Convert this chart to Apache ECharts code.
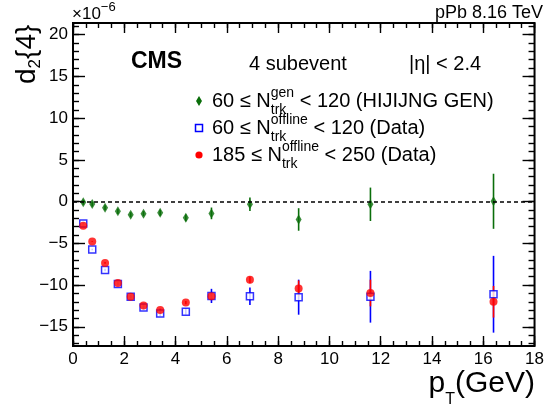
<!DOCTYPE html>
<html><head><meta charset="utf-8">
<script src="https://cdn.jsdelivr.net/npm/echarts@6/dist/echarts.min.js"></script>
<style>html,body{margin:0;padding:0;background:#fff}#c{width:547px;height:410px}</style>
</head><body><div id="c"></div>
<script>
// ---- data ----
const pt = [0.4, 0.75, 1.25, 1.75, 2.25, 2.75, 3.4, 4.4, 5.4, 6.9, 8.8, 11.6, 16.4];
const genVal = [-0.08, -0.3, -0.73, -1.17, -1.58, -1.45, -1.33, -1.94, -1.41, -0.32, -2.14, -0.32, 0.04];
const genErr = [0.3, 0.3, 0.3, 0.3, 0.3, 0.3, 0.35, 0.4, 0.7, 0.8, 1.35, 2.0, 3.3];
const lowVal = [-2.63, -5.74, -8.2, -9.86, -11.4, -12.7, -13.4, -13.2, -11.3, -11.35, -11.45, -11.4, -11.1];
const lowErr = [0.1, 0.1, 0.15, 0.15, 0.2, 0.25, 0.3, 0.35, 0.85, 1.05, 2.1, 3.1, 4.6];
const highVal = [-2.9, -4.77, -7.35, -9.74, -11.4, -12.44, -13.0, -12.1, -11.35, -9.37, -10.4, -10.95, -12.0];
const highErr = [0.05, 0.05, 0.1, 0.1, 0.1, 0.15, 0.15, 0.2, 0.3, 0.4, 0.95, 1.6, 1.9];

const xMajorTicks = [0, 2, 4, 6, 8, 10, 12, 14, 16, 18];
const xMinorTicks = [0, 0.5, 1, 1.5, 2, 2.5, 3, 3.5, 4, 4.5, 5, 5.5, 6, 6.5, 7, 7.5, 8, 8.5, 9, 9.5, 10, 10.5, 11, 11.5, 12, 12.5, 13, 13.5, 14, 14.5, 15, 15.5, 16, 16.5, 17, 17.5, 18];
const yMajorTicks = [-15, -10, -5, 0, 5, 10, 15, 20];
const yMinorTicks = [-17, -16, -15, -14, -13, -12, -11, -10, -9, -8, -7, -6, -5, -4, -3, -2, -1, 0, 1, 2, 3, 4, 5, 6, 7, 8, 9, 10, 11, 12, 13, 14, 15, 16, 17, 18, 19, 20, 21];
const X_MIN = 0, X_MAX = 18, Y_MIN = -17.3, Y_MAX = 21.4;

const legendLabels = [
  ['60 ≤ N', 'gen', 'trk', ' < 120 (HIJIJNG GEN)'],
  ['60 ≤ N', 'offline', 'trk', ' < 120 (Data)'],
  ['185 ≤ N', 'offline', 'trk', ' < 250 (Data)']
];

// ---- styles ----
const GREEN = '#0a6e0a', BLUE = '#0000ff', RED = '#ff0000';
const FONT = '"Liberation Sans", Arial, Helvetica, sans-serif';
const mctx = document.createElement('canvas').getContext('2d');
function tw(t, size, weight) { mctx.font = (weight || 'normal') + ' ' + size + 'px ' + FONT; return mctx.measureText(t).width; }
function txt(t, x, y, size, opt) {
  opt = opt || {};
  return { type: 'text', x: x, y: y, rotation: opt.rotation || 0, silent: true, z: 100,
    style: { text: t, fontSize: size, fontFamily: FONT, fontWeight: opt.weight || 'normal', fill: opt.fill || '#000',
      align: opt.align || 'left', verticalAlign: 'middle' } };
}
function hrun(x, y, pieces, anchor) {
  const widths = pieces.map(p => p.stack ? Math.max(...p.stack.map(s => tw(s.t, s.size))) : tw(p.t, p.size, p.weight));
  const total = widths.reduce((a, b) => a + b, 0);
  let cx = anchor === 'right' ? x - total : x;
  const els = [];
  pieces.forEach((p, i) => {
    (p.stack || [p]).forEach(s => els.push(txt(s.t, cx, y + (s.dy || 0), s.size, { weight: s.weight })));
    cx += widths[i];
  });
  return els;
}
function vrun(x, yBottom, pieces) {
  let cy = yBottom;
  const els = [];
  pieces.forEach(p => {
    els.push(txt(p.t, x + (p.dy || 0), cy, p.size, { rotation: Math.PI / 2 }));
    cy -= tw(p.t, p.size);
  });
  return els;
}

const graphics = [];
graphics.push(...hrun(72, 14, [{ t: '×10', size: 17 }, { t: '−6', size: 13, dy: -7 }]));
graphics.push(txt('pPb 8.16 TeV', 543, 13, 18, { align: 'right' }));
graphics.push(txt('CMS', 131, 62, 23, { weight: 'bold' }));
graphics.push(txt('4 subevent', 249, 64, 20));
graphics.push(txt('|η| < 2.4', 409, 64, 20));
graphics.push(...hrun(535, 384, [{ t: 'p', size: 30 }, { t: 'T', size: 16, dy: 16 }, { t: '(GeV)', size: 30 }], 'right'));
graphics.push(...vrun(27, 84, [{ t: 'd', size: 28 }, { t: '2', size: 17, dy: 8.5 }, { t: '{4}', size: 28 }]));

const rowY = [101, 128, 155];
legendLabels.forEach((L, i) => {
  graphics.push(...hrun(212, rowY[i], [
    { t: L[0], size: 20 },
    { stack: [{ t: L[1], size: 14, dy: -8 }, { t: L[2], size: 14, dy: 9 }] },
    { t: L[3], size: 20 }
  ]));
});
graphics.push({ type: 'polygon', silent: true, z: 100, shape: { points: [[199, rowY[0] - 5], [202, rowY[0]], [199, rowY[0] + 5], [196, rowY[0]]] }, style: { fill: GREEN } });
graphics.push({ type: 'rect', silent: true, z: 100, shape: { x: 195.5, y: rowY[1] - 3.5, width: 7, height: 7 }, style: { fill: '#fff', stroke: BLUE, lineWidth: 1.5 } });
graphics.push({ type: 'circle', silent: true, z: 100, shape: { cx: 199, cy: rowY[2], r: 3.6 }, style: { fill: RED } });

// ---- axes ----
const labelStyle = { color: '#000', fontSize: 17, fontFamily: FONT };
function fmt(v) { return v < 0 ? '\u2212' + Math.abs(v) : String(v); }
function yAx(pos, ticks, len, labels) {
  return { type: 'value', position: pos, min: Y_MIN, max: Y_MAX, axisLine: { show: false, onZero: false },
    axisTick: { show: true, inside: true, length: len, customValues: ticks, lineStyle: { color: '#000', width: 1.4 } },
    axisLabel: Object.assign({ show: labels, customValues: yMajorTicks, margin: 5, formatter: fmt }, labelStyle),
    splitLine: { show: false } };
}
function xAx(pos, ticks, len, labels) {
  return { type: 'value', position: pos, min: X_MIN, max: X_MAX, axisLine: { show: false, onZero: false },
    axisTick: { show: true, inside: true, length: len, customValues: ticks, lineStyle: { color: '#000', width: 1.4 } },
    axisLabel: Object.assign({ show: labels, customValues: xMajorTicks, margin: 5, formatter: fmt }, labelStyle),
    splitLine: { show: false } };
}

function errSeries(vals, errs, color) {
  return { type: 'custom', xAxisIndex: 0, yAxisIndex: 0, clip: true,
    data: pt.map((x, i) => [x, vals[i] - errs[i], vals[i] + errs[i]]),
    encode: { x: 0, y: [1, 2] },
    renderItem: function (params, api) {
      const lo = api.coord([api.value(0), api.value(1)]);
      const hi = api.coord([api.value(0), api.value(2)]);
      return { type: 'line', shape: { x1: lo[0], y1: lo[1], x2: hi[0], y2: hi[1] }, style: { stroke: color, lineWidth: 1.6 } };
    } };
}

const chart = echarts.init(document.getElementById('c'), null, { renderer: 'canvas' });
chart.setOption({
  animation: false,
  backgroundColor: '#fff',
  grid: { left: 73, right: 12, top: 23, bottom: 64, show: true, borderColor: '#000', borderWidth: 2, backgroundColor: 'transparent' },
  xAxis: [xAx('bottom', xMajorTicks, 10, true), xAx('bottom', xMinorTicks, 5, false), xAx('top', xMajorTicks, 10, false), xAx('top', xMinorTicks, 5, false)],
  yAxis: [yAx('left', yMajorTicks, 12, true), yAx('left', yMinorTicks, 6, false), yAx('right', yMajorTicks, 12, false), yAx('right', yMinorTicks, 6, false)],
  series: [
    Object.assign(errSeries(genVal, genErr, GREEN), {
      markLine: { silent: true, symbol: 'none', label: { show: false }, lineStyle: { color: '#000', type: [4, 3], width: 1.6 }, data: [{ yAxis: 0 }] }
    }),
    { type: 'scatter', data: pt.map((x, i) => [x, genVal[i]]), symbol: 'diamond', symbolSize: [6, 10], itemStyle: { color: GREEN } },
    errSeries(lowVal, lowErr, BLUE),
    { type: 'scatter', data: pt.map((x, i) => [x, lowVal[i]]), symbol: 'rect', symbolSize: 7, itemStyle: { color: '#fff', borderColor: BLUE, borderWidth: 1.5 } },
    errSeries(highVal, highErr, RED),
    { type: 'scatter', data: pt.map((x, i) => [x, highVal[i]]), symbol: 'circle', symbolSize: 8, itemStyle: { color: RED } }
  ],
  graphic: graphics
});
</script>
</body></html>
